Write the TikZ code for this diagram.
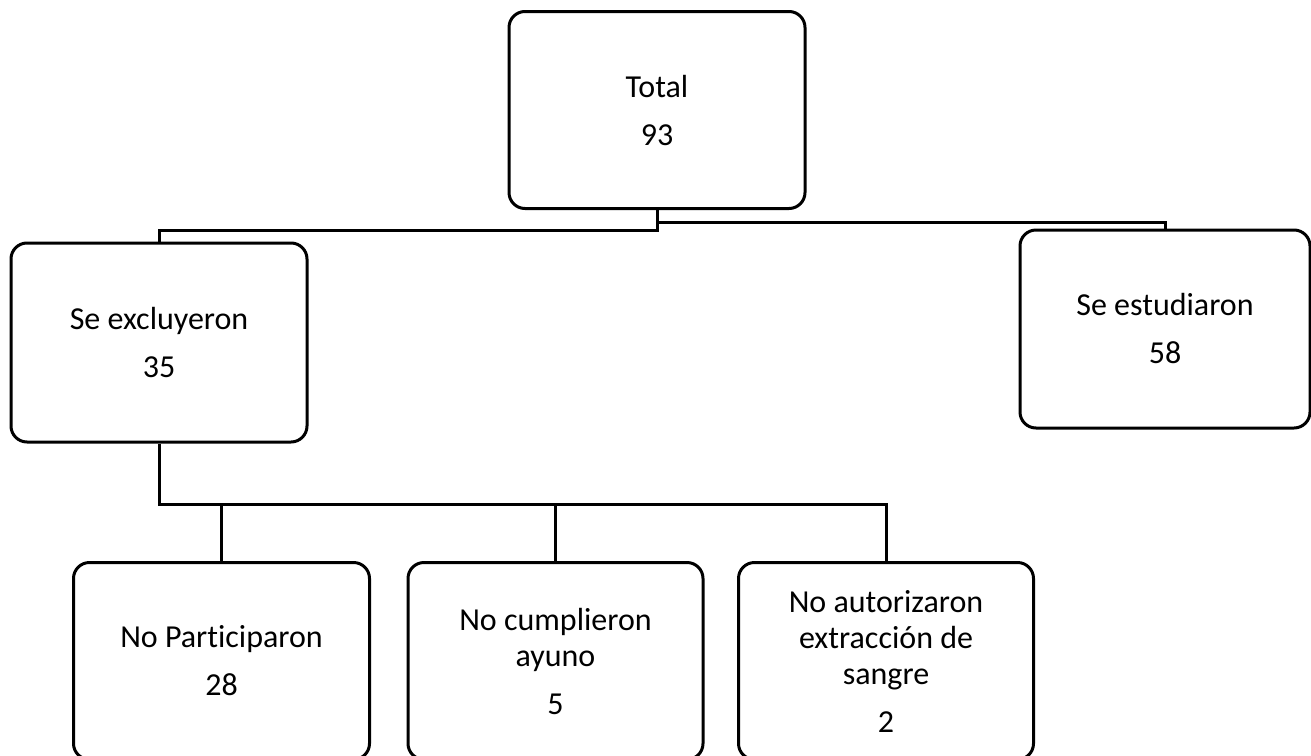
\documentclass[tikz,border=0pt]{standalone}
\usepackage{fontspec}
\setmainfont{Carlito}[Ligatures=NoCommon]
\usetikzlibrary{positioning}

\tikzstyle{countbox} = [draw=black, fill=white, line width=3pt,
    rectangle, rounded corners=16pt, inner sep=0pt,
    minimum width=296pt, minimum height=197pt, align=center,
    font=\fontsize{32}{36}\selectfont]
\tikzstyle{link} = [draw=black, line width=3pt]

\begin{document}
\begin{tikzpicture}[x=1pt, y=-1pt]
\useasboundingbox (0,0) rectangle (1311,755);
\clip (0,0) rectangle (1311,755);
\node [countbox] (total) at (657,110) {Total\\[12pt]93};
\node [countbox, minimum height=199pt] (excl) at (159,342.5) {Se excluyeron\\[12pt]35};
\node [countbox, minimum width=290pt, minimum height=198pt] (estud) at (1165,329) {Se estudiaron\\[12pt]58};
\node [countbox] (nopart) at (221.5,661) {No Participaron\\[12pt]28};
\node [countbox, minimum width=295pt] (noayuno) at (555.5,661) {No cumplieron\\ayuno\\[12pt]5};
\node [countbox, minimum width=295pt] (noaut) at (886,661) {No autorizaron\\extracción de\\sangre\\[12pt]2};
\draw [link] (total.south) -- ++(0,20) -| (excl.north);
\draw [link] (total.south) -- ++(0,12) -| (estud.north);
\draw [link] (excl.south) -- ++(0,61) coordinate (split) -| (noaut.north);
\draw [link] (split -| nopart.north) -- (nopart.north);
\draw [link] (split -| noayuno.north) -- (noayuno.north);
\end{tikzpicture}
\end{document}
